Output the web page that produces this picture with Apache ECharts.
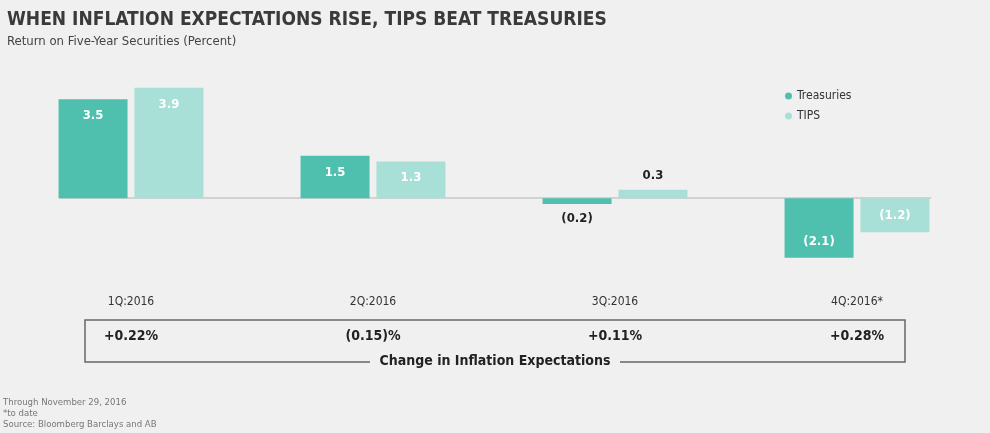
<html>
<head>
<meta charset="utf-8">
<title>TIPS vs Treasuries</title>
<script src="https://cdn.jsdelivr.net/npm/echarts@6/dist/echarts.min.js"></script>
<style>body{margin:0;background:#f0f0f0}#chart{width:990px;height:433px}</style>
</head>
<body>
<div id="chart"></div>
<script>
var quarters = ['1Q:2016', '2Q:2016', '3Q:2016', '4Q:2016*'];
var treasuries = [3.5, 1.5, -0.2, -2.1];
var tips = [3.9, 1.3, 0.3, -1.2];
var inflationChange = ['+0.22%', '(0.15)%', '+0.11%', '+0.28%'];

var font = 'DejaVu Sans Condensed';
function fmt(v) { return v < 0 ? '(' + Math.abs(v).toFixed(1) + ')' : v.toFixed(1); }
function items(arr) {
    return arr.map(function (v) {
        var small = Math.abs(v) < 0.5;
        return {
            value: v,
            label: {
                position: small ? (v < 0 ? 'bottom' : 'top') : (v < 0 ? 'insideBottom' : 'insideTop'),
                distance: small ? 8 : 10,
                color: small ? '#222' : '#fff'
            }
        };
    });
}
var labelBase = { show: true, fontFamily: font, fontWeight: 'bold', fontSize: 13, formatter: function (p) { return fmt(p.value); } };

var chart = echarts.init(document.getElementById('chart'));
chart.setOption({
    backgroundColor: '#f0f0f0',
    animation: false,
    title: {
        text: 'WHEN INFLATION EXPECTATIONS RISE, TIPS BEAT TREASURIES',
        subtext: 'Return on Five-Year Securities (Percent)',
        left: 2, top: 6, itemGap: 5,
        textStyle: { fontFamily: font, fontWeight: 'bold', fontSize: 19, color: '#3a3a3a' },
        subtextStyle: { fontFamily: font, fontSize: 13, color: '#444' }
    },
    legend: {
        orient: 'vertical', left: 780, top: 85, itemGap: 8,
        icon: 'circle', itemWidth: 7, itemHeight: 7,
        textStyle: { fontFamily: font, fontSize: 12, color: '#333' },
        data: ['Treasuries', 'TIPS']
    },
    grid: { left: 10, width: 968, top: 85, height: 184 },
    xAxis: [
        { type: 'category', data: quarters, position: 'bottom', axisLine: { show: false },
          axisTick: { show: false }, axisLabel: { show: false } },
        { type: 'category', data: quarters, position: 'bottom', gridIndex: 0, axisLine: { show: false, onZero: false },
          axisTick: { show: false }, axisLabel: { margin: 27, fontFamily: font, fontSize: 12, color: '#333' } },
        { type: 'category', data: inflationChange, position: 'bottom', offset: 60, axisLine: { show: false, onZero: false },
          axisTick: { show: false }, axisLabel: { margin: 0, fontFamily: font, fontSize: 14, fontWeight: 'bold', color: '#222' } }
    ],
    yAxis: { type: 'value', min: -2.5, max: 4, show: false, splitLine: { show: false } },
    graphic: [
        { type: 'line', z: 0, shape: { x1: 59, y1: 198, x2: 931, y2: 198 }, style: { stroke: '#c8c8c8', lineWidth: 1.5 } },
        { type: 'rect', shape: { x: 85, y: 320, width: 820, height: 42 }, style: { fill: 'none', stroke: '#666', lineWidth: 1.5 } },
        { type: 'rect', shape: { x: 370, y: 354, width: 250, height: 14 }, style: { fill: '#f0f0f0' } },
        { type: 'text', left: 'center', top: 354, style: { text: 'Change in Inflation Expectations', font: 'bold 14px "' + font + '"', fill: '#222' } },
        { type: 'text', left: 3, top: 397, style: { text: 'Through November 29, 2016\n*to date\nSource: Bloomberg Barclays and AB', font: '9.5px "' + font + '"', fill: '#777', lineHeight: 11 } }
    ],
    series: [
        { name: 'Treasuries', type: 'bar', barWidth: 69, barGap: '10%', data: items(treasuries), itemStyle: { color: '#4fbfae' }, label: labelBase },
        { name: 'TIPS', type: 'bar', barWidth: 69, data: items(tips), itemStyle: { color: '#a8dfd7' }, label: labelBase }
    ]
});
</script>
</body>
</html>
